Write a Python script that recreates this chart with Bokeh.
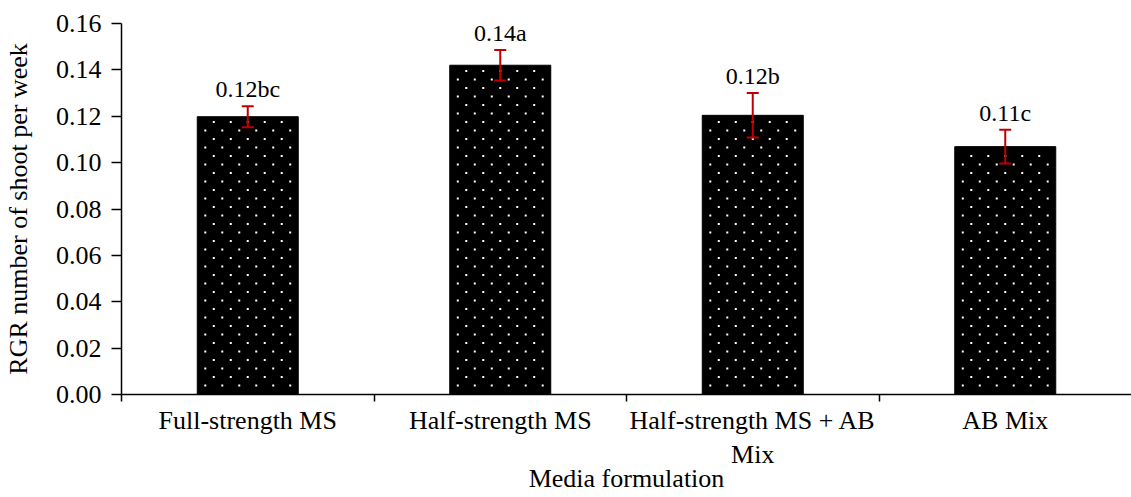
from bokeh.plotting import figure
from bokeh.models import (ColumnDataSource, Range1d, FixedTicker, NumeralTickFormatter,
                          Whisker, TeeHead, LabelSet)
from bokeh.embed import file_html
from bokeh.resources import INLINE

# ---- data ----
categories = ["Full-strength MS", "Half-strength MS", "Half-strength MS + AB\nMix", "AB Mix"]
rgr = [0.1198, 0.1420, 0.1204, 0.1069]
err = [0.0045, 0.0066, 0.0096, 0.0073]
letters = ["0.12bc", "0.14a", "0.12b", "0.11c"]
y_ticks = [0.00, 0.02, 0.04, 0.06, 0.08, 0.10, 0.12, 0.14, 0.16]
x_title = "Media formulation"
y_title = "RGR number of shoot per week"

FONT = "Liberation Serif"
RED = "#C00000"

# ---- layout constants (pixels) ----
W, H = 1131, 497
LEFT, TOP, BOTTOM = 120, 23, 103
Y_MAX = 0.16
BAR_W = 0.4
px_per_x = (W - LEFT) / len(categories)
px_per_y = (H - TOP - BOTTOM) / Y_MAX

xs = [i + 0.5 for i in range(len(categories))]
src = ColumnDataSource(dict(
    x=xs, top=rgr,
    upper=[r + e for r, e in zip(rgr, err)],
    lower=[r - e for r, e in zip(rgr, err)],
    label=letters,
))

# white dot texture inside the bars (staggered 17 x 8.5 px lattice)
dot_x, dot_y = [], []
for cx, top in zip(xs, rgr):
    row = 0
    while True:
        ypx = 9 + row * 8.5
        if ypx > top * px_per_y - 3:
            break
        offs = [-42.5, -25.5, -8.5, 8.5, 25.5, 42.5] if row % 2 == 0 else [-34, -17, 0, 17, 34]
        for o in offs:
            dot_x.append(cx + o / px_per_x)
            dot_y.append(ypx / px_per_y)
        row += 1

p = figure(width=W, height=H, output_backend="svg", toolbar_location=None,
           x_range=Range1d(0, len(categories)), y_range=Range1d(0, Y_MAX),
           min_border_left=LEFT, min_border_right=0, min_border_top=TOP,
           min_border_bottom=BOTTOM)
p.outline_line_color = None
p.grid.visible = False
p.background_fill_color = "white"
p.border_fill_color = "white"

p.vbar(x="x", top="top", width=BAR_W, source=src, fill_color="black",
       line_color="black", line_width=1)
p.scatter(dot_x, dot_y, marker="square", size=2, fill_color="white",
          line_color=None)

wh = Whisker(source=src, base="x", upper="upper", lower="lower", line_color=RED,
             line_width=2, level="annotation",
             upper_head=TeeHead(size=12, line_color=RED, line_width=2),
             lower_head=TeeHead(size=12, line_color=RED, line_width=2))
p.add_layout(wh)

labels = LabelSet(x="x", y="upper", text="label", source=src, y_offset=9,
                  text_align="center", text_baseline="alphabetic",
                  text_font=FONT, text_font_size="24px", text_color="black")
p.add_layout(labels)

# x axis
xa = p.xaxis[0]
xa.ticker = FixedTicker(ticks=xs, minor_ticks=[0, 1, 2, 3])
xa.major_label_overrides = {x: c for x, c in zip(xs, categories)}
xa.major_tick_line_color = None
xa.major_tick_out = 7
xa.major_tick_in = 0
xa.minor_tick_line_color = "black"
xa.minor_tick_line_width = 1.5
xa.minor_tick_out = 7
xa.minor_tick_in = 0
xa.major_label_standoff = 4
xa.axis_label = x_title
xa.axis_label_standoff = -8

# y axis
ya = p.yaxis[0]
ya.ticker = FixedTicker(ticks=y_ticks)
ya.formatter = NumeralTickFormatter(format="0.00")
ya.minor_tick_line_color = None
ya.major_tick_out = 10
ya.major_tick_in = 0
ya.major_tick_line_width = 1.5
ya.major_label_standoff = 10
ya.axis_label = y_title
ya.axis_label_standoff = 20

for ax in (xa, ya):
    ax.axis_line_color = "black"
    ax.axis_line_width = 1.5
    ax.major_label_text_font = FONT
    ax.major_label_text_font_size = "26px"
    ax.major_label_text_color = "black"
    ax.axis_label_text_font = FONT
    ax.axis_label_text_font_size = "26px"
    ax.axis_label_text_font_style = "normal"
    ax.axis_label_text_color = "black"

open("out.html", "w").write(file_html(p, INLINE))
